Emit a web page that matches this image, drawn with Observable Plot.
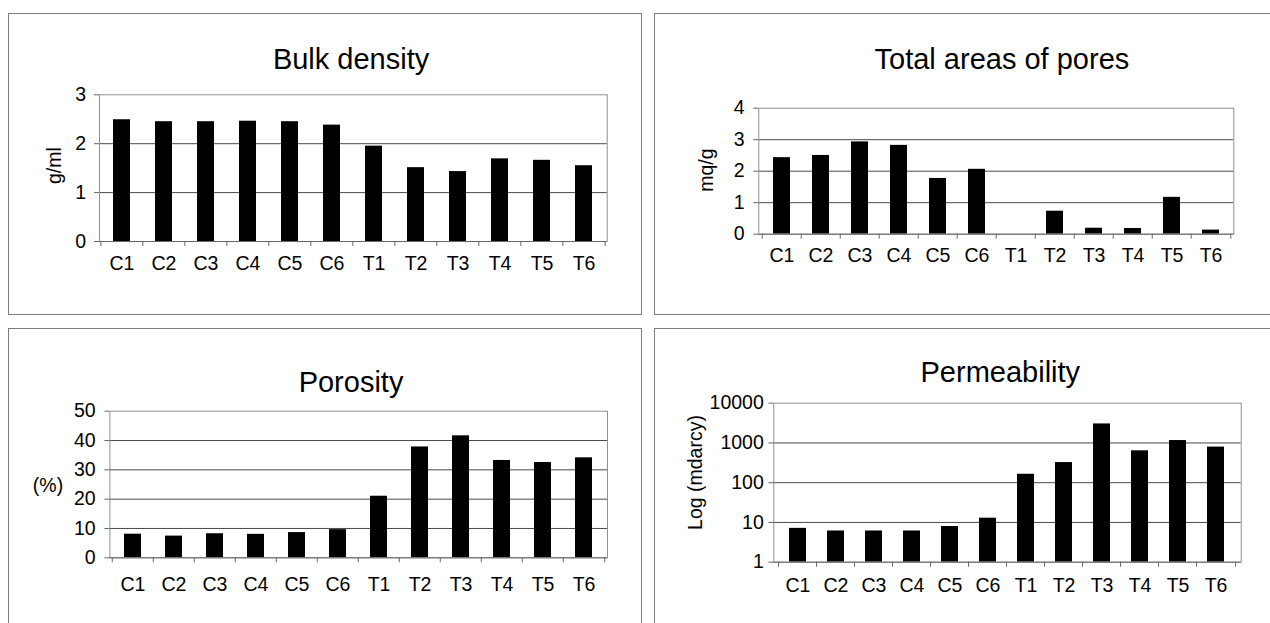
<!DOCTYPE html>
<html>
<head>
<meta charset="utf-8">
<script src="https://cdn.jsdelivr.net/npm/d3@7"></script>
<script src="https://cdn.jsdelivr.net/npm/@observablehq/plot@0.6"></script>
<style>
html, body { margin: 0; padding: 0; background: #fff; overflow: hidden; }
#page { position: relative; width: 1270px; height: 623px; overflow: hidden; background: #fff; }
.box { position: absolute; border: 1.5px solid #7d7d7d; box-sizing: border-box; }
.panel { position: absolute; }
.panel svg { overflow: visible; background: transparent; max-width: none; }
</style>
</head>
<body>
<div id="page">
  <div class="box" style="left:8px;top:13px;width:634px;height:302px"></div>
  <div class="box" style="left:654px;top:13px;width:700px;height:302px"></div>
  <div class="box" style="left:8px;top:328px;width:634px;height:400px"></div>
  <div class="box" style="left:654px;top:328px;width:700px;height:400px"></div>
</div>
<script>
// ---- data ----
const categories = ["C1", "C2", "C3", "C4", "C5", "C6", "T1", "T2", "T3", "T4", "T5", "T6"];
const bulkDensity = [2.49, 2.45, 2.45, 2.46, 2.45, 2.38, 1.95, 1.51, 1.43, 1.69, 1.66, 1.55];
const poreArea = [2.43, 2.50, 2.93, 2.82, 1.77, 2.06, 0, 0.73, 0.19, 0.18, 1.17, 0.13];
const porosity = [8.05, 7.4, 8.2, 8.0, 8.6, 9.6, 21.0, 37.8, 41.6, 33.2, 32.5, 34.1];
const permeability = [7.1, 6.1, 6.1, 6.1, 7.9, 12.8, 163, 321, 3010, 634, 1150, 787];

const bulkTicks = [0, 1, 2, 3];
const poreTicks = [0, 1, 2, 3, 4];
const porosityTicks = [0, 10, 20, 30, 40, 50];
const permTicks = [1, 10, 100, 1000, 10000];

const titles = ["Bulk density", "Total areas of pores", "Porosity", "Permeability"];
const yLabels = ["g/ml", "mq/g", "(%)", "Log (mdarcy)"];

const FONT = '"Liberation Sans", Arial, Helvetica, sans-serif';

function panel(c) {
  const data = categories.map((k, i) => ({k, v: c.values[i]}));
  const step = (c.width - c.mL - c.mR) / categories.length;
  const pad = 1 - 17.6 / step;
  const base = c.type === "log" ? 1 : 0;
  const fs = 19.5;
  const svg = Plot.plot({
    width: c.width,
    height: c.height,
    marginLeft: c.mL, marginRight: c.mR, marginTop: c.mT, marginBottom: c.mB,
    style: {fontFamily: FONT, fontSize: fs + "px", background: "transparent", overflow: "visible", color: "#000"},
    x: {domain: categories, paddingInner: pad, paddingOuter: pad / 2, axis: null, label: null},
    y: {type: c.type, domain: [c.ticks[0], c.ticks[c.ticks.length - 1]], axis: null, label: null},
    marks: [
      Plot.gridY(c.ticks.slice(1, -1), {stroke: "#4a4a4a", strokeOpacity: 1, strokeWidth: 1}),
      Plot.barY(data, {x: "k", y1: () => base, y2: "v", fill: "#000"}),
      Plot.frame({stroke: "#8f8f8f"}),
      Plot.ruleY([base], {stroke: "#666"}),
      Plot.axisY(c.ticks, {tickSize: 5, tickPadding: c.yPad, tickFormat: d => String(d), fontSize: fs, stroke: "#666", label: null}),
      Plot.axisX({tickSize: 0, tickPadding: c.xPad, fontSize: fs, label: null}),
      Plot.axisX({tickSize: 5, tickFormat: () => "", dx: -step / 2, stroke: "#666", label: null}),
      Plot.axisX([categories[categories.length - 1]], {tickSize: 5, tickFormat: () => "", dx: step / 2, stroke: "#666", label: null}),
      Plot.text([c.title], {frameAnchor: "top", dx: c.tdx, dy: c.tdy, lineAnchor: "bottom", textAnchor: "middle", fontSize: 29}),
      Plot.text([c.ylabel], {frameAnchor: "left", rotate: c.rot, dx: c.ldx, dy: c.ldy, textAnchor: "middle", lineAnchor: "middle", fontSize: 19.5})
    ]
  });
  const div = document.createElement("div");
  div.className = "panel";
  div.style.left = c.left + "px";
  div.style.top = c.top + "px";
  div.appendChild(svg);
  document.getElementById("page").appendChild(div);
}

panel({left: 0, top: 0, width: 645, height: 320, mL: 99, mR: 38.3, mT: 94.3, mB: 79,
  values: bulkDensity, ticks: bulkTicks, type: "linear", title: titles[0], ylabel: yLabels[0],
  tdx: -2.3, tdy: -26, rot: -90, ldx: -45, ldy: -2.6, yPad: 8.5, xPad: 14.5});

panel({left: 645, top: 0, width: 625, height: 320, mL: 113.3, mR: 36.7, mT: 107.7, mB: 86.3,
  values: poreArea, ticks: poreTicks, type: "linear", title: titles[1], ylabel: yLabels[1],
  tdx: 5.6, tdy: -39.4, rot: -90, ldx: -52.3, ldy: -1.1, yPad: 9.3, xPad: 13.5});

panel({left: 0, top: 320, width: 645, height: 303, mL: 109.4, mR: 38, mT: 90.7, mB: 65.7,
  values: porosity, ticks: porosityTicks, type: "linear", title: titles[2], ylabel: yLabels[2],
  tdx: -7.7, tdy: -19, rot: 0, ldx: -61.9, ldy: 1, yPad: 9.3, xPad: 18.9});

panel({left: 645, top: 320, width: 625, height: 303, mL: 128.3, mR: 29.3, mT: 82.7, mB: 61.3,
  values: permeability, ticks: permTicks, type: "log", title: titles[3], ylabel: yLabels[3],
  tdx: -7.2, tdy: -21, rot: -90, ldx: -77.8, ldy: -10.2, yPad: 5, xPad: 15.5});
</script>
</body>
</html>
